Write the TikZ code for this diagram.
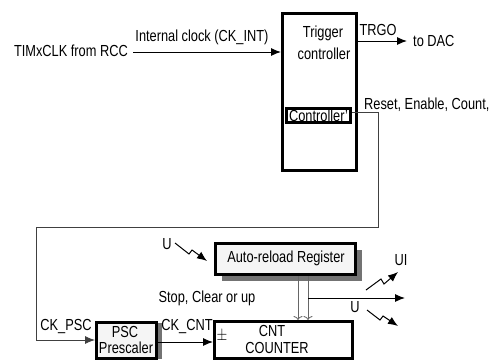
\documentclass[tikz,border=0pt]{standalone}
\usepackage{fontspec}
\setmainfont{Liberation Sans}
\usepackage{graphicx}
\usetikzlibrary{arrows.meta,shadows}
\newcommand\sx[1]{\scalebox{0.8}[1]{#1}}
\begin{document}
\begin{tikzpicture}[x=1pt,y=-1pt,
  txt/.style={inner sep=0pt, font=\fontsize{16}{17}\selectfont},
  thickbox/.style={draw, line width=3pt, inner sep=0pt},
  grayfill/.style={fill=black!4},
  boxshadow/.style={general shadow={shadow xshift=6pt, shadow yshift=-6pt, fill=black!55}},
  conn/.style={line width=1pt, draw=black},
  arr/.style={conn, -{Latex[length=10pt,width=8pt]}},
  loopline/.style={line width=0.8pt, draw=black!75, -{Latex[length=10pt,width=8pt]}},
  dbl/.style={line width=0.8pt, draw=black!60, -{To[length=4pt,width=9pt]}},
  bolt/.style={line width=1pt, -{Latex[length=10pt,width=8pt]}},
]
\clip (0,0) rectangle (491,360);
\fill[white] (0,0) rectangle (491,360);

% boxes
\node[thickbox, minimum width=74pt, minimum height=157pt] (trig) at (319.5,92) {};
\node[thickbox, minimum width=64pt, minimum height=14pt] (ctrl) at (318.5,115.5) {};
\node[thickbox, grayfill, boxshadow, minimum width=140pt, minimum height=31pt] (arl) at (285.5,259) {};
\node[thickbox, grayfill, general shadow={shadow xshift=5pt, shadow yshift=0pt, fill=black!55}, minimum width=60pt, minimum height=36pt] (psc) at (126.5,340.5) {};
\node[thickbox, fill=white, minimum width=138pt, minimum height=37pt] (cnt) at (283.5,340) {};

% texts
\node[txt] (t1) at (323,33) {\sx{Trigger}};
\node[txt] (t2) at (324,54) {\sx{controller}};
\node[txt] (t3) at (318.5,115.5) {\sx{Controller'}};
\node[txt, anchor=east] (timx) at (128,51) {\sx{TIMxCLK from RCC}};
\node[txt] (intclk) at (202,37) {\sx{Internal clock (CK\_INT)}};
\node[txt] (trgo) at (378,30) {\sx{TRGO}};
\node[txt, anchor=west] (todac) at (413,41) {\sx{to DAC}};
\node[txt, anchor=west] (reset) at (364,105) {\sx{Reset, Enable, Count,}};
\node[txt] (arltxt) at (286,258) {\sx{Auto-reload Register}};
\node[txt] (u1) at (167,244) {\sx{U}};
\node[txt] (stop) at (207,298) {\sx{Stop, Clear or up}};
\node[txt] (ui) at (401,260) {\sx{UI}};
\node[txt] (u2) at (355,307) {\sx{U}};
\node[txt] (ckpsc) at (66,326) {\sx{CK\_PSC}};
\node[txt] (ckcnt) at (187,326) {\sx{CK\_CNT}};
\node[txt] (p1) at (125,332) {\sx{PSC}};
\node[txt] (p2) at (126,348) {\sx{Prescaler}};
\node[txt] (pm) at (222,336) {\sx{$\pm$}};
\node[txt] (c1) at (272,331) {\sx{CNT}};
\node[txt] (c2) at (277,348) {\sx{COUNTER}};

% coordinates
\coordinate (clkin) at (133,52);
\coordinate (trgoy) at (0,41);
\coordinate (dac) at (407,41);
\coordinate (r1) at (378,112);
\coordinate (r2) at (378,227);
\coordinate (r3) at (36,227);
\coordinate (r4) at (36,340);
\coordinate (cnty) at (0,342);
\coordinate (da) at (298,0);
\coordinate (db) at (308,0);
\coordinate (ustart) at (308,298);
\coordinate (uend) at (405,298);
\coordinate (b1a) at (366,290);
\coordinate (b1b) at (381,279);
\coordinate (b1c) at (384,284);
\coordinate (b1d) at (398,272);
\coordinate (b2a) at (367,310);
\coordinate (b2b) at (380,320);
\coordinate (b2c) at (383,316);
\coordinate (b2d) at (398,326);
\coordinate (b3a) at (175,243);
\coordinate (b3b) at (189,254);
\coordinate (b3c) at (192,250);
\coordinate (b3d) at (207,261);

% connectors
\draw[arr] (clkin) -- (clkin -| trig.west);
\draw[arr] (trig.east |- trgoy) -- (dac);
\draw[loopline] (ctrl.east |- r1) -- (r1) -- (r2) -- (r3) -- (r4) -- (r4 -| psc.west);
\draw[arr] (psc.east |- cnty) -- (cnt.west |- cnty);
\draw[dbl] (da |- arl.south) -- (da |- cnt.north);
\draw[dbl] (db |- arl.south) -- (db |- cnt.north);
\draw[arr] (ustart) -- (uend);
\draw[bolt] (b1a) -- (b1b) -- (b1c) -- (b1d);
\draw[bolt] (b2a) -- (b2b) -- (b2c) -- (b2d);
\draw[bolt] (b3a) -- (b3b) -- (b3c) -- (b3d);
\end{tikzpicture}
\end{document}
